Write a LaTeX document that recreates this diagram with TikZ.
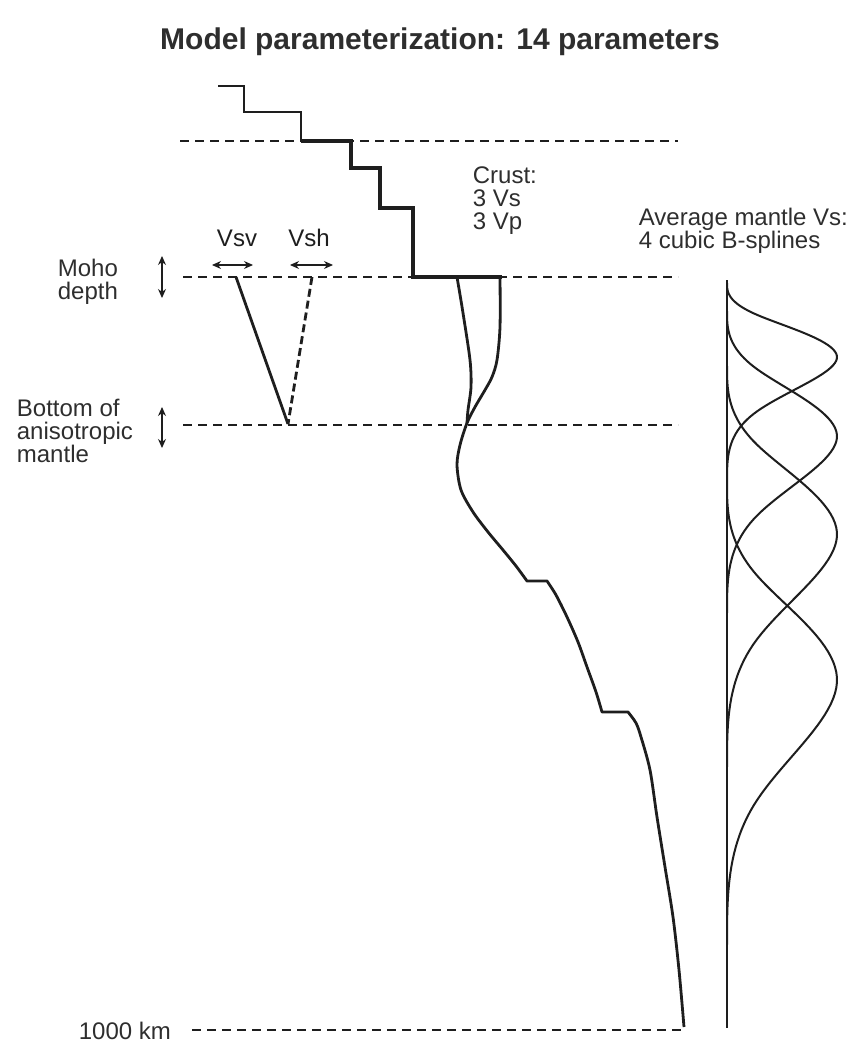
\documentclass[tikz,border=0pt]{standalone}
\usepackage{fontspec}
\setsansfont{Liberation Sans}
\usetikzlibrary{arrows.meta, positioning}
\definecolor{cink}{HTML}{1E1E1E}
\definecolor{ctext}{HTML}{2E2E2E}
\tikzset{
  every picture/.style={font=\sffamily\fontsize{24}{23}\selectfont, line width=1.8pt, color=cink},
  level/.style={line width=1.8pt, dash pattern=on 9pt off 6pt},
  profile/.style={line width=3.4pt, line join=miter},
  thinprofile/.style={line width=2.2pt},
  mantle/.style={line width=2.8pt, line join=round},
  dblarrow/.style={{Stealth[length=9pt, width=8pt]}-{Stealth[length=9pt, width=8pt]}, line width=1.2pt},
  bspline/.style={line width=2pt},
  title/.style={font=\sffamily\bfseries\fontsize{30}{30}\selectfont, text=ctext},
  note/.style={align=left, inner sep=0pt, anchor=north west, text=ctext},
  declare function={bsp(\u)=(\u<1) ? (\u^3/6) : ((\u<2) ? ((-3*\u^3+12*\u^2-12*\u+4)/6) : ((\u<3) ? ((3*\u^3-24*\u^2+60*\u-44)/6) : ((4-\u)^3/6)));},
}

\begin{document}
\begin{tikzpicture}[x=1pt, y=-1pt]
  \useasboundingbox (0,0) rectangle (851,1043);
  \node[title] (title) at (440,42) {Model parameterization: 14 parameters};

  % depth levels
  \draw[level] (180,141) -- (678,141);
  \draw[level] (183,277) -- (678,277);
  \draw[level] (183,425) -- (678,425);
  \draw[level] (192,1030) -- (683,1030);

  % crust: 3 layers
  \draw[thinprofile] (218,86) -- (244,86) -- (244,112) -- (301,112) -- (301,141);
  \draw[profile] (301,141) -- (351,141) -- (351,168) -- (380,168) -- (380,208) -- (413,208) -- (413,277) -- (502,277);
  \node[note] (crust) at (472,166) {Crust:\\3 Vs\\3 Vp};

  % mantle profile
  \draw[mantle] plot[smooth] coordinates {(457,277) (463,313) (470,360) (471,387) (468,410) (467,423)};
  \draw[mantle] plot[smooth] coordinates {(500,277) (500,327) (497,360) (492,377) (485,390) (475,407) (467,423) (460,445) (457,465) (461,490) (473,512) (488,532) (503,550) (516,566) (527,581)}
    -- (547,581) -- plot[smooth] coordinates {(547,581) (556,595) (567,617) (578,642) (587,667) (596,692) (602,712)}
    -- (628,712) -- plot[smooth] coordinates {(628,712) (636,723) (641,737) (650,770) (657,817) (665,867) (673,917) (679,970) (684,1027)};

  % anisotropy
  \coordinate (vsvtop) at (236,277);
  \coordinate (vshtop) at (312,277);
  \coordinate (anibot) at (288,424);
  \draw[mantle] (vsvtop) -- (anibot);
  \draw[mantle, dash pattern=on 8pt off 4pt] (vshtop) -- (anibot);
  \node (vsv) at (237,238) {Vsv};
  \node (vsh) at (309,238) {Vsh};
  \draw[dblarrow] (212,265) -- (253,265);
  \draw[dblarrow] (290,265) -- (333,265);

  % left labels
  \node[note] (moho) at (57,258) {Moho\\depth};
  \draw[dblarrow] (162,256) -- (162,298);
  \node[note] (anibase) at (16,398) {Bottom of\\anisotropic\\mantle};
  \draw[dblarrow] (162,407) -- (162,448);
  \node[anchor=west, inner sep=0pt, text=ctext] (bottom) at (78,1031) {1000 km};

  % B-splines
  \node[note] (avg) at (638,207) {Average mantle Vs:\\4 cubic B-splines};
  \draw[bspline] (727,280) -- (727,1028);
  \foreach \ys/\ye/\a in {283/482/0.51, 311/613/0.34, 366/767/0.32, 482/945/0.29}
    \draw[bspline] plot[domain=0:1, samples=90, variable=\t] ({727+165*bsp(4*\t)}, {\ys+(\ye-\ys)*(\t+\a*\t*(\t-1))});
\end{tikzpicture}
\end{document}
